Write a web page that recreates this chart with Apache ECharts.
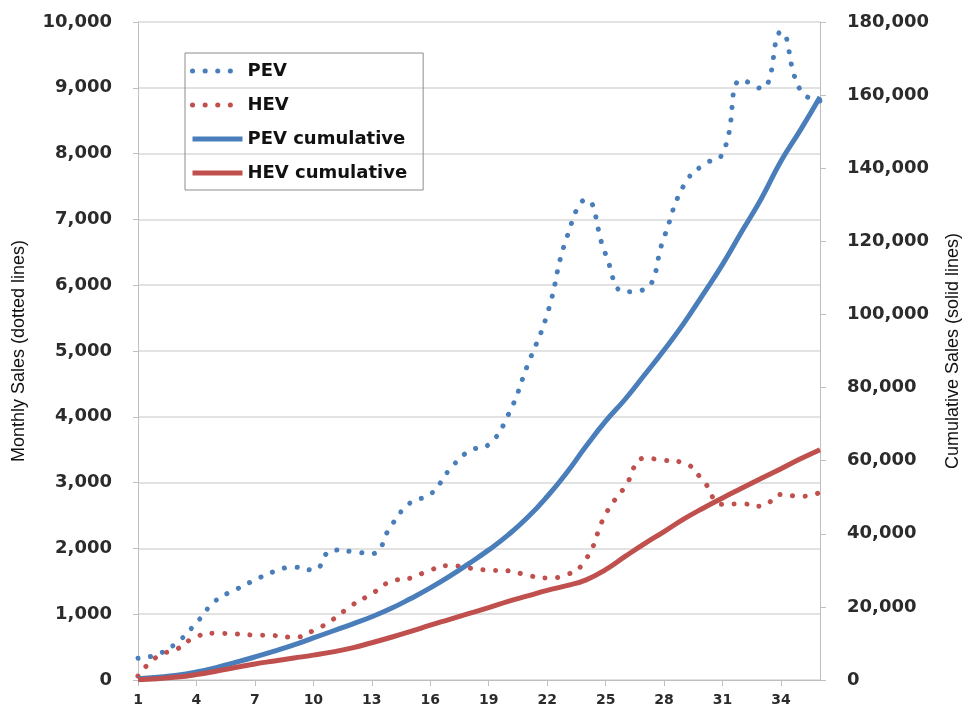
<!DOCTYPE html>
<html>
<head>
<meta charset="utf-8">
<script src="https://cdn.jsdelivr.net/npm/echarts@6/dist/echarts.min.js"></script>
<style>
  html, body { margin: 0; padding: 0; background: #fff; }
  #chart { width: 962px; height: 707px; }
</style>
</head>
<body>
<div id="chart"></div>
<script>
// month index 1..36
const months = Array.from({ length: 36 }, (_, i) => String(i + 1));

// monthly sales (dotted lines, left axis)
const pevMonthly = [330, 390, 570, 870, 1210, 1370, 1520, 1650, 1715, 1670,
  1975, 1950, 1920, 2350, 2700, 2820, 3200, 3480, 3580, 4030,
  4790, 5560, 6720, 7300, 6470, 5900, 5940, 6730, 7510, 7830,
  8000, 9120, 8990, 9850, 8960, 8800];
const hevMonthly = [60, 360, 470, 660, 710, 700, 682, 675, 650, 750,
  920, 1140, 1310, 1500, 1550, 1670, 1740, 1700, 1670, 1660,
  1590, 1550, 1600, 1840, 2520, 2940, 3370, 3340, 3300, 3030,
  2670, 2677, 2640, 2820, 2790, 2850];

// cumulative sales (solid lines, right axis)
const pevCumulative = [350, 750, 1300, 2200, 3400, 4800, 6300, 7900, 9600, 11500,
  13400, 15300, 17300, 19600, 22300, 25200, 28400, 31900, 35600, 39700,
  44500, 50200, 56700, 64000, 70800, 76800, 83500, 90300, 97500, 105500,
  113700, 122800, 131800, 142000, 150500, 159500];
const hevCumulative = [100, 350, 800, 1500, 2400, 3400, 4400, 5200, 6000, 6800,
  7700, 8800, 10200, 11700, 13300, 15000, 16600, 18200, 19800, 21500,
  23000, 24500, 25800, 27400, 30200, 33800, 37300, 40600, 44000, 47000,
  49800, 52500, 55200, 57800, 60500, 63000];

const blue = '#4a7ebb';
const red = '#c0504d';
const axisGray = '#bfbfbf';
const labelFont = { color: '#2b2b2b', fontFamily: 'DejaVu Sans', fontWeight: 'bold', fontSize: 18 };
const nameFont = { color: '#111', fontFamily: 'Liberation Sans', fontSize: 18 };
const dotted = { type: [0.1, 12.5], cap: 'round', width: 5 };

const chart = echarts.init(document.getElementById('chart'));

chart.setOption({
  animation: false,
  backgroundColor: '#fff',
  grid: { left: 138, right: 142, top: 22, bottom: 27, containLabel: false, outerBoundsMode: 'none' },
  legend: {
    orient: 'vertical',
    left: 185,
    top: 53,
    padding: [9, 16, 8, 5],
    borderColor: '#8c8c8c',
    borderWidth: 1,
    itemWidth: 50,
    itemHeight: 14,
    itemGap: 16,
    itemStyle: { opacity: 0 },
    textStyle: { color: '#111', fontFamily: 'DejaVu Sans', fontWeight: 'bold', fontSize: 18 },
    data: [
      { name: 'PEV', lineStyle: { width: 5, type: [0.1, 12.5], cap: 'round' } },
      { name: 'HEV', lineStyle: { width: 5, type: [0.1, 12.5], cap: 'round' } },
      { name: 'PEV cumulative', lineStyle: { width: 5 } },
      { name: 'HEV cumulative', lineStyle: { width: 5 } }
    ]
  },
  xAxis: {
    type: 'category',
    boundaryGap: false,
    data: months,
    axisLine: { lineStyle: { color: axisGray, width: 1 } },
    axisTick: { interval: 2, length: 6, lineStyle: { color: axisGray } },
    axisLabel: { interval: 2, margin: 13, color: '#2b2b2b', fontFamily: 'DejaVu Sans', fontWeight: 'bold', fontSize: 14 },
    splitLine: { show: false }
  },
  yAxis: [
    {
      type: 'value',
      min: 0,
      max: 10000,
      interval: 1000,
      name: 'Monthly Sales (dotted lines)',
      nameLocation: 'middle',
      nameGap: 110,
      nameTextStyle: nameFont,
      axisLine: { show: true, lineStyle: { color: axisGray } },
      axisTick: { show: true, length: 5, lineStyle: { color: axisGray } },
      axisLabel: Object.assign({ margin: 26, formatter: v => v.toLocaleString('en-US') }, labelFont),
      splitLine: { show: true, lineStyle: { color: '#d9d9d9', width: 1.5 } }
    },
    {
      type: 'value',
      min: 0,
      max: 180000,
      interval: 20000,
      name: 'Cumulative Sales (solid lines)',
      nameLocation: 'middle',
      nameGap: 124,
      nameTextStyle: nameFont,
      axisLine: { show: true, lineStyle: { color: axisGray } },
      axisTick: { show: true, length: 6, lineStyle: { color: axisGray } },
      axisLabel: Object.assign({ margin: 27, formatter: v => v.toLocaleString('en-US') }, labelFont),
      splitLine: { show: false }
    }
  ],
  series: [
    {
      name: 'PEV', type: 'line', yAxisIndex: 0, data: pevMonthly,
      smooth: true, symbol: 'none',
      itemStyle: { color: blue },
      lineStyle: Object.assign({ color: blue }, dotted)
    },
    {
      name: 'HEV', type: 'line', yAxisIndex: 0, data: hevMonthly,
      smooth: true, symbol: 'none',
      itemStyle: { color: red },
      lineStyle: Object.assign({ color: red }, dotted)
    },
    {
      name: 'PEV cumulative', type: 'line', yAxisIndex: 1, data: pevCumulative,
      smooth: true, symbol: 'none',
      itemStyle: { color: blue },
      lineStyle: { color: blue, width: 5 }
    },
    {
      name: 'HEV cumulative', type: 'line', yAxisIndex: 1, data: hevCumulative,
      smooth: true, symbol: 'none',
      itemStyle: { color: red },
      lineStyle: { color: red, width: 5 }
    }
  ]
});
</script>
</body>
</html>
